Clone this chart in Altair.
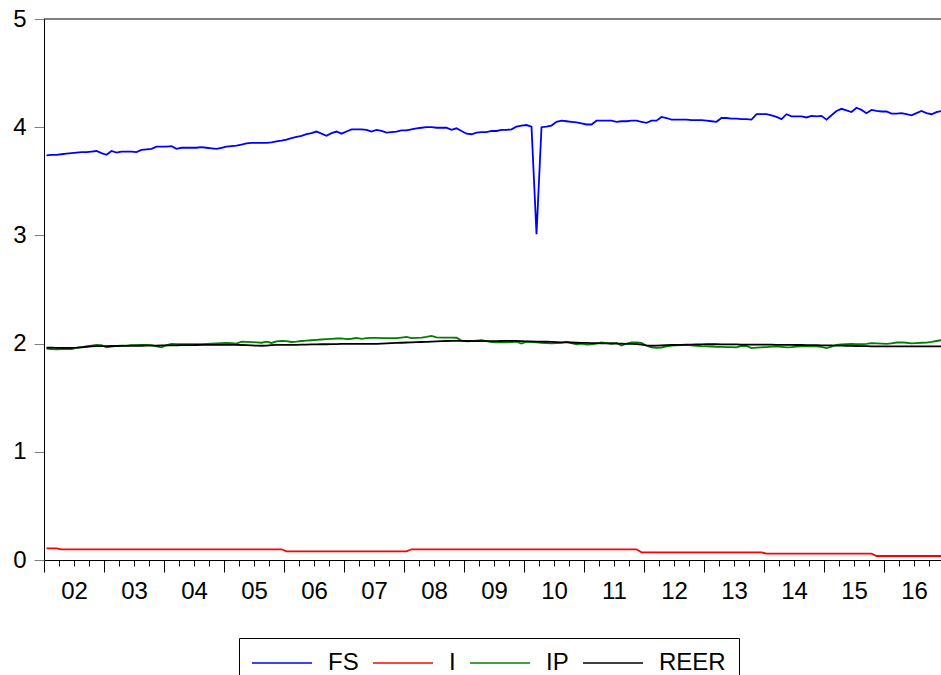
import altair as alt
import pandas as pd

# Monthly observations, 2002M01 - 2016M12
years = list(range(2002, 2017))
series_names = ["FS", "I", "IP", "REER"]
series_colors = ["#0000FF", "#FF0000", "#008000", "#000000"]

fs = [
    3.74, 3.745, 3.745, 3.75, 3.755, 3.76, 3.765, 3.77, 3.77, 3.775, 3.78, 3.76,
    3.745, 3.78, 3.765, 3.775, 3.775, 3.775, 3.77, 3.79, 3.795, 3.80, 3.82, 3.82,
    3.82, 3.825, 3.80, 3.81, 3.81, 3.81, 3.81, 3.815, 3.81, 3.805, 3.80, 3.81,
    3.82, 3.825, 3.83, 3.84, 3.85, 3.855, 3.855, 3.855, 3.855, 3.86, 3.87, 3.875,
    3.885, 3.90, 3.91, 3.92, 3.935, 3.945, 3.96, 3.94, 3.92, 3.945, 3.96, 3.94,
    3.96, 3.98, 3.98, 3.98, 3.975, 3.96, 3.975, 3.965, 3.95, 3.955, 3.96, 3.97,
    3.97, 3.98, 3.99, 3.995, 4.00, 4.00, 3.995, 3.995, 3.995, 3.975, 3.99, 3.965,
    3.94, 3.935, 3.95, 3.955, 3.955, 3.965, 3.965, 3.975, 3.975, 3.98, 4.005, 4.015,
    4.02, 4.005, 3.01, 4.00, 4.005, 4.015, 4.05, 4.06, 4.055, 4.05, 4.045, 4.035,
    4.025, 4.025, 4.06, 4.06, 4.06, 4.06, 4.05, 4.055, 4.055, 4.06, 4.06, 4.05,
    4.04, 4.06, 4.06, 4.095, 4.085, 4.07, 4.07, 4.07, 4.07, 4.065, 4.065, 4.065,
    4.06, 4.055, 4.05, 4.085, 4.085, 4.08, 4.08, 4.075, 4.075, 4.07, 4.12, 4.12,
    4.12, 4.11, 4.095, 4.075, 4.12, 4.10, 4.10, 4.10, 4.09, 4.105, 4.10, 4.105,
    4.07, 4.11, 4.15, 4.17, 4.155, 4.14, 4.18, 4.16, 4.13, 4.16, 4.15, 4.145,
    4.145, 4.125, 4.125, 4.13, 4.12, 4.11, 4.13, 4.15, 4.13, 4.12, 4.14, 4.15,
]

i_rate = [
    0.108, 0.108, 0.108, 0.099, 0.099, 0.099, 0.099, 0.099, 0.099, 0.099, 0.099, 0.099,
    0.099, 0.099, 0.099, 0.099, 0.099, 0.099, 0.099, 0.099, 0.099, 0.099, 0.099, 0.099,
    0.099, 0.099, 0.099, 0.099, 0.099, 0.099, 0.099, 0.099, 0.099, 0.099, 0.099, 0.099,
    0.099, 0.099, 0.099, 0.099, 0.099, 0.099, 0.099, 0.099, 0.099, 0.099, 0.099, 0.099,
    0.080, 0.080, 0.080, 0.080, 0.080, 0.080, 0.080, 0.080, 0.080, 0.080, 0.080, 0.080,
    0.080, 0.080, 0.080, 0.080, 0.080, 0.080, 0.080, 0.080, 0.080, 0.080, 0.080, 0.080,
    0.080, 0.099, 0.099, 0.099, 0.099, 0.099, 0.099, 0.099, 0.099, 0.099, 0.099, 0.099,
    0.099, 0.099, 0.099, 0.099, 0.099, 0.099, 0.099, 0.099, 0.099, 0.099, 0.099, 0.099,
    0.099, 0.099, 0.099, 0.099, 0.099, 0.099, 0.099, 0.099, 0.099, 0.099, 0.099, 0.099,
    0.099, 0.099, 0.099, 0.099, 0.099, 0.099, 0.099, 0.099, 0.099, 0.099, 0.099, 0.071,
    0.071, 0.071, 0.071, 0.071, 0.071, 0.071, 0.071, 0.071, 0.071, 0.071, 0.071, 0.071,
    0.071, 0.071, 0.071, 0.071, 0.071, 0.071, 0.071, 0.071, 0.071, 0.071, 0.071, 0.071,
    0.058, 0.058, 0.058, 0.058, 0.058, 0.058, 0.058, 0.058, 0.058, 0.058, 0.058, 0.058,
    0.058, 0.058, 0.058, 0.058, 0.058, 0.058, 0.058, 0.058, 0.058, 0.058, 0.037, 0.037,
    0.037, 0.037, 0.037, 0.037, 0.037, 0.037, 0.037, 0.037, 0.037, 0.037, 0.037, 0.037,
]

ip = [
    1.954, 1.95, 1.948, 1.95, 1.952, 1.95, 1.96, 1.968, 1.975, 1.982, 1.988, 1.985,
    1.966, 1.972, 1.978, 1.98, 1.982, 1.985, 1.986, 1.988, 1.988, 1.985, 1.975, 1.966,
    1.985, 1.997, 1.995, 1.994, 1.994, 1.995, 1.994, 1.994, 1.997, 2.0, 2.003, 2.005,
    2.006, 2.004, 2.0, 2.019, 2.016, 2.014, 2.012, 2.008, 2.018, 2.006, 2.02, 2.026,
    2.022, 2.015, 2.018, 2.024, 2.028, 2.031, 2.034, 2.038, 2.041, 2.044, 2.047, 2.049,
    2.042, 2.045, 2.052, 2.044, 2.05, 2.053, 2.052, 2.051, 2.05, 2.05, 2.05, 2.056,
    2.062, 2.05, 2.053, 2.056, 2.062, 2.072, 2.058, 2.056, 2.056, 2.056, 2.054, 2.028,
    2.02, 2.022, 2.027, 2.031, 2.022, 2.013, 2.012, 2.012, 2.012, 2.015, 2.019, 2.0,
    2.017, 2.014, 2.012, 2.008, 2.004, 2.003, 2.004, 2.006, 2.018, 2.005, 1.994, 2.0,
    1.99, 1.992, 2.0, 2.01, 2.004, 2.001, 2.006, 1.982, 2.0, 2.012, 2.01, 2.006,
    1.98, 1.966, 1.96, 1.964, 1.975, 1.981, 1.984, 1.986, 1.988, 1.984, 1.98, 1.976,
    1.975, 1.973, 1.97, 1.969, 1.968, 1.967, 1.966, 1.98, 1.978, 1.958, 1.962, 1.966,
    1.968, 1.972, 1.975, 1.97, 1.966, 1.968, 1.972, 1.975, 1.975, 1.975, 1.975, 1.97,
    1.958, 1.972, 1.988, 1.992, 1.996, 1.997, 1.995, 1.994, 1.998, 2.005, 2.003, 2.0,
    1.997, 2.003, 2.01, 2.012, 2.008, 2.003, 2.005, 2.008, 2.009, 2.015, 2.024, 2.032,
]

reer = [
    1.963, 1.962, 1.961, 1.961, 1.96, 1.96, 1.962, 1.966, 1.971, 1.975, 1.976, 1.976,
    1.977, 1.978, 1.978, 1.979, 1.979, 1.98, 1.98, 1.98, 1.981, 1.982, 1.982, 1.983,
    1.983, 1.984, 1.984, 1.985, 1.985, 1.986, 1.987, 1.988, 1.988, 1.988, 1.988, 1.988,
    1.988, 1.988, 1.988, 1.987, 1.985, 1.983, 1.981, 1.98, 1.982, 1.985, 1.988, 1.988,
    1.988, 1.989, 1.989, 1.99, 1.991, 1.992, 1.993, 1.994, 1.994, 1.995, 1.996, 1.997,
    1.997, 1.997, 1.997, 1.997, 1.997, 1.997, 1.998, 2.0, 2.002, 2.004, 2.006, 2.008,
    2.01, 2.012, 2.014, 2.015, 2.016, 2.018, 2.02, 2.022, 2.024, 2.025, 2.025, 2.025,
    2.024, 2.024, 2.023, 2.022, 2.022, 2.022, 2.023, 2.024, 2.025, 2.025, 2.024, 2.022,
    2.021, 2.02, 2.019, 2.018, 2.017, 2.016, 2.014, 2.012, 2.011, 2.01, 2.008, 2.007,
    2.006, 2.005, 2.004, 2.003, 2.002, 2.001, 2.0, 1.999, 1.998, 1.997, 1.995, 1.99,
    1.983, 1.98, 1.982, 1.984, 1.986, 1.987, 1.988, 1.989, 1.99, 1.991, 1.992, 1.993,
    1.994, 1.994, 1.994, 1.993, 1.993, 1.992, 1.992, 1.991, 1.991, 1.991, 1.991, 1.99,
    1.99, 1.99, 1.989, 1.989, 1.988, 1.988, 1.987, 1.987, 1.986, 1.985, 1.985, 1.984,
    1.984, 1.983, 1.982, 1.981, 1.98, 1.979, 1.978, 1.977, 1.976, 1.975, 1.975, 1.975,
    1.975, 1.975, 1.975, 1.975, 1.975, 1.975, 1.975, 1.975, 1.975, 1.975, 1.975, 1.975,
]

series_values = [fs, i_rate, ip, reer]

# Long table: one row per series and month, time as fractional year (mid-month)
rows = []
for name, values in zip(series_names, series_values):
    for k, v in enumerate(values):
        year = years[k // 12]
        month = k % 12 + 1
        rows.append({"t": year + (month - 0.5) / 12, "series": name, "value": v})
df = pd.DataFrame(rows)

FONT = "Liberation Sans"
x_end = 2016.95
quarter_ticks = [y + q / 4 for y in years for q in range(4)]

x_axis = alt.Axis(
    values=quarter_ticks,
    labelExpr="datum.value % 1 == 0.5 ? substring(toString(floor(datum.value)), 2, 4) : ''",
    labelOverlap=False,
    labelFlush=False,
    labelFont=FONT,
    labelFontSize=24,
    labelColor="black",
    labelPadding=13,
    tickSize={"condition": {"test": "datum.value % 1 == 0", "value": 12}, "value": 6},
    tickColor="black",
    domainColor="black",
    grid=False,
    title=None,
)

y_axis = alt.Axis(
    values=[0, 1, 2, 3, 4, 5],
    format="d",
    labelFont=FONT,
    labelFontSize=24,
    labelColor="black",
    labelPadding=8,
    tickSize=10,
    tickColor="#808080",
    domainColor="black",
    grid=False,
    title=None,
)

legend = alt.Legend(
    title=None,
    orient="none",
    legendX=195,
    legendY=619,
    direction="horizontal",
    columns=4,
    symbolType="M-2,0H8",
    symbolSize=144,
    symbolStrokeWidth=1.5,
    labelFont=FONT,
    labelFontSize=24,
    labelColor="black",
    labelOffset=52,
    columnPadding=11,
    padding=13,
    strokeColor="black",
    fillColor="white",
)

lines = alt.Chart(df).mark_line(strokeWidth=1.8, clip=True).encode(
    x=alt.X("t:Q", scale=alt.Scale(domain=[2002, x_end], nice=False, zero=False), axis=x_axis),
    y=alt.Y("value:Q", scale=alt.Scale(domain=[0, 5], nice=False), axis=y_axis),
    color=alt.Color("series:N", scale=alt.Scale(domain=series_names, range=series_colors), legend=legend),
    detail="series:N",
)

# Upper frame line at the top of the value range
top_frame = alt.Chart(pd.DataFrame({"top": [5]})).mark_rule(color="black", strokeWidth=1).encode(
    y="top:Q"
)

chart = (
    alt.layer(lines, top_frame)
    .properties(
        width=897,
        height=541,
        padding={"left": 44, "top": 19, "right": 0, "bottom": 115},
        autosize=alt.AutoSizeParams(type="none"),
        background="white",
    )
    .configure_view(strokeWidth=0)
)

chart.save("out.html", embed_options={"renderer": "svg", "actions": False})
